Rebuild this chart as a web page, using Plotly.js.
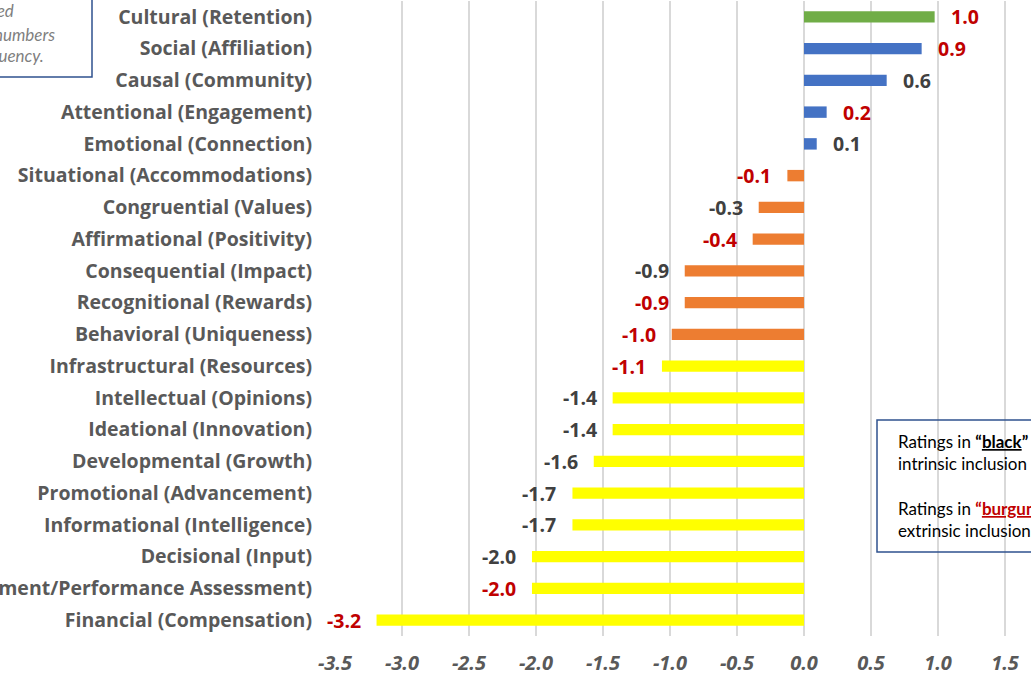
<!DOCTYPE html>
<html>
<head>
<meta charset="utf-8">
<script src="https://cdn.plot.ly/plotly-3.0.1.min.js"></script>
<style>html,body{margin:0;padding:0;background:#fff;}#chart{width:1031px;height:678px;}</style>
</head>
<body>
<div id="chart"></div>
<script>
// ---- data ----
var categories = [
  "Cultural (Retention)",
  "Social (Affiliation)",
  "Causal (Community)",
  "Attentional (Engagement)",
  "Emotional (Connection)",
  "Situational (Accommodations)",
  "Congruential (Values)",
  "Affirmational (Positivity)",
  "Consequential (Impact)",
  "Recognitional (Rewards)",
  "Behavioral (Uniqueness)",
  "Infrastructural (Resources)",
  "Intellectual (Opinions)",
  "Ideational (Innovation)",
  "Developmental (Growth)",
  "Promotional (Advancement)",
  "Informational (Intelligence)",
  "Decisional (Input)",
  "Achievement/Performance Assessment)",
  "Financial (Compensation)"
];
var ratings = [0.975, 0.878, 0.617, 0.169, 0.095, -0.124, -0.338, -0.383, -0.89, -0.89,
               -0.987, -1.06, -1.428, -1.428, -1.569, -1.728, -1.728, -2.03, -2.03, -3.19];
// inclusion type of each dimension: "intrinsic" (black label) or "extrinsic" (burgundy label)
var inclusionType = ["extrinsic","extrinsic","intrinsic","extrinsic","intrinsic","extrinsic","intrinsic","extrinsic","intrinsic","extrinsic",
                     "extrinsic","extrinsic","intrinsic","intrinsic","intrinsic","intrinsic","intrinsic","intrinsic","extrinsic","extrinsic"];
// rating tier of each dimension
var tier = ["top","positive","positive","positive","positive","mild","mild","mild","mild","mild",
            "mild","low","low","low","low","low","low","low","low","low"];
var xTicks = [-3.5, -3.0, -2.5, -2.0, -1.5, -1.0, -0.5, 0.0, 0.5, 1.0, 1.5];

// ---- styles ----
var tierColor = {top:"#70ad47", positive:"#4472c4", mild:"#ed7d31", low:"#ffff00"};
var typeColor = {intrinsic:"#404040", extrinsic:"#c00000"};
var FONT = "Lato, 'Open Sans', sans-serif";
var WIDE = "'Open Sans', Lato, sans-serif";

var trace = {
  type: "bar",
  orientation: "h",
  x: ratings,
  y: categories,
  marker: {color: tier.map(function(t){return tierColor[t];})},
  hoverinfo: "x+y",
  cliponaxis: false
};

var labelAnnotations = ratings.map(function(v, i){
  return {
    x: v, y: categories[i], xref: "x", yref: "y",
    text: v.toFixed(1),
    showarrow: false,
    xanchor: v >= 0 ? "left" : "right",
    yanchor: "middle",
    xshift: v >= 0 ? 14 : -14,
    font: {family: WIDE, size: 19.5, color: typeColor[inclusionType[i]], weight: "bold"}
  };
});

// plot-area geometry helpers (paper coords)
var L = 335, R = 0, T = 1, B = 42, W = 1031, H = 678;
var pw = W - L - R, ph = H - T - B;
function px2x(p){ return (p - L) / pw; }
function py2y(p){ return (H - B - p) / ph; }

var noteFont = {family: FONT, size: 17, color: "#7f7f7f", style: "italic"};
var boxFont = {family: FONT, size: 17, color: "#000000"};

var annotations = labelAnnotations.concat([
  {xref:"paper", yref:"paper", x:px2x(16), y:py2y(11), xanchor:"right", yanchor:"middle", showarrow:false,
   text:"<i>Ratings are based</i>", font:noteFont},
  {xref:"paper", yref:"paper", x:px2x(57), y:py2y(34), xanchor:"right", yanchor:"middle", showarrow:false,
   text:"<i>on weighted numbers</i>", font:noteFont},
  {xref:"paper", yref:"paper", x:px2x(46), y:py2y(56), xanchor:"right", yanchor:"middle", showarrow:false,
   text:"<i>and frequency.</i>", font:noteFont},
  {xref:"paper", yref:"paper", x:px2x(896), y:py2y(442), xanchor:"left", yanchor:"middle", showarrow:false,
   text:"Ratings in <b>\u201c<span style=\"text-decoration:underline\">black</span>\u201d</b> indicate", font:boxFont},
  {xref:"paper", yref:"paper", x:px2x(896), y:py2y(464), xanchor:"left", yanchor:"middle", showarrow:false,
   text:"intrinsic inclusion dimensions.", font:boxFont},
  {xref:"paper", yref:"paper", x:px2x(896), y:py2y(508), xanchor:"left", yanchor:"middle", showarrow:false,
   text:"Ratings in <b><span style=\"color:#c00000\">\u201c<span style=\"text-decoration:underline\">burgundy</span>\u201d</span></b> indicate", font:boxFont},
  {xref:"paper", yref:"paper", x:px2x(896), y:py2y(530), xanchor:"left", yanchor:"middle", showarrow:false,
   text:"extrinsic inclusion dimensions.", font:boxFont}
]);

var layout = {
  width: W, height: H,
  margin: {l: L, r: R, t: T, b: B, pad: 0},
  paper_bgcolor: "#ffffff",
  plot_bgcolor: "#ffffff",
  showlegend: false,
  bargap: 0.64,
  xaxis: {
    range: [-3.5, (W - L - R) / 134 - 3.5],
    tickvals: xTicks,
    ticktext: xTicks.map(function(t){return t.toFixed(1);}),
    showgrid: true, gridcolor: "#d9d9d9", gridwidth: 1.3,
    zeroline: false, showline: false, ticks: "",
    ticklabelstandoff: 13,
    automargin: false,
    tickfont: {family: WIDE, size: 20, color: "#595959", weight: "bold", style: "italic"},
    fixedrange: true
  },
  yaxis: {
    autorange: "reversed",
    showgrid: false, zeroline: false, showline: false, ticks: "",
    ticklabelstandoff: 22,
    automargin: false,
    tickfont: {family: WIDE, size: 19.5, color: "#595959", weight: "bold"},
    fixedrange: true
  },
  shapes: [
    {type:"rect", xref:"paper", yref:"paper", x0:px2x(-20), x1:px2x(92), y0:py2y(77), y1:py2y(-20),
     line:{color:"#2f528f", width:1.5}, fillcolor:"rgba(0,0,0,0)"},
    {type:"rect", xref:"paper", yref:"paper", x0:px2x(877), x1:px2x(1060), y0:py2y(552), y1:py2y(420),
     line:{color:"#2f528f", width:1.5}, fillcolor:"rgba(0,0,0,0)"}
  ],
  annotations: annotations
};

Plotly.newPlot("chart", [trace], layout, {displayModeBar: false, staticPlot: true});
</script>
</body>
</html>
